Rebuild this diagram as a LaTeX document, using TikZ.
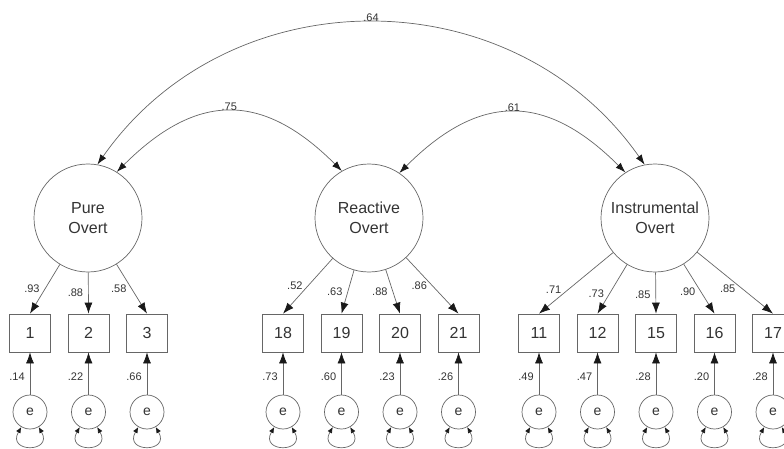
\documentclass[tikz,border=0pt]{standalone}
\usepackage{fontspec}
\setmainfont{Liberation Sans}
\usetikzlibrary{positioning}
\usetikzlibrary{arrows.meta}

\begin{document}
\begin{tikzpicture}[x = 1pt, y = 1pt]
  \tikzstyle{latent}=[circle, minimum size = 108pt, inner sep = 0pt, draw = black!60, line width = 0.7pt, text = black!80, align = center, font = \fontsize{16}{20}\selectfont]
  \tikzstyle{observed}=[rectangle, minimum width = 41pt, minimum height = 38pt, draw = black!60, line width = 0.7pt, text = black!80, font = \fontsize{16}{19}\selectfont, node distance = 58.5pt]
  \tikzstyle{resid}=[circle, minimum size = 34pt, inner sep = 0pt, draw = black!60, line width = 0.7pt, text = black!80, font = \fontsize{14}{17}\selectfont, node distance = 79pt]
  \tikzstyle{connect}=[-{Latex[length = 11pt, width = 8pt, color = black!90]}, draw = black!60, line width = 0.7pt]
  \tikzstyle{covary}=[{Latex[length = 10pt, width = 7pt, color = black!90]}-{Latex[length = 10pt, width = 7pt, color = black!90]}, draw = black!60, line width = 0.7pt]
  \tikzstyle{selfvar}=[loop, out = -120, in = -60, min distance = 30pt, {Latex[length = 6pt, width = 5pt, color = black!90]}-{Latex[length = 6pt, width = 5pt, color = black!90]}, shorten >=0pt, draw = black!60, line width = 0.7pt]
  \tikzstyle{coef}=[inner sep = 1pt, text = black!80, font = \fontsize{11}{13}\selectfont]

  \useasboundingbox (0,0) rectangle (784,-449);

  \node[latent] (pure) at (88,-218) {Pure\\Overt};
  \node[latent] (react) at (369,-218) {Reactive\\Overt};
  \node[latent] (instr) at (655,-218) {Instrumental\\Overt};

  \node[observed] (x1) at (30,-333) {1};
  \node[observed] (x2) [right of = x1] {2};
  \node[observed] (x3) [right of = x2] {3};
  \node[observed] (x18) at (283,-333) {18};
  \node[observed] (x19) [right of = x18] {19};
  \node[observed] (x20) [right of = x19] {20};
  \node[observed] (x21) [right of = x20] {21};
  \node[observed] (x11) at (539,-333) {11};
  \node[observed] (x12) [right of = x11] {12};
  \node[observed] (x15) [right of = x12] {15};
  \node[observed] (x16) [right of = x15] {16};
  \node[observed] (x17) [right of = x16] {17};

  \node[resid] (e1) [below of = x1] {e};
  \node[resid] (e2) [below of = x2] {e};
  \node[resid] (e3) [below of = x3] {e};
  \node[resid] (e18) [below of = x18] {e};
  \node[resid] (e19) [below of = x19] {e};
  \node[resid] (e20) [below of = x20] {e};
  \node[resid] (e21) [below of = x21] {e};
  \node[resid] (e11) [below of = x11] {e};
  \node[resid] (e12) [below of = x12] {e};
  \node[resid] (e15) [below of = x15] {e};
  \node[resid] (e16) [below of = x16] {e};
  \node[resid] (e17) [below of = x17] {e};

  \path (pure.80) edge [covary, out = 55, in = 125, looseness = 1.08] node [coef, above] {.64} (instr.101)
        (pure.58) edge [covary, out = 45, in = 135, looseness = 1.28] node [coef, above] {.75} (react.120)
        (react.56) edge [covary, out = 45, in = 135, looseness = 1.28] node [coef, above] {.61} (instr.123);

  \path (pure) edge [connect] node [coef, left = 4pt] {.93} (x1.north)
        (pure) edge [connect] node [coef, left = 4pt] {.88} (x2.north)
        (pure) edge [connect] node [coef, left = 4pt] {.58} (x3.north);

  \path (react) edge [connect] node [coef, left = 4pt] {.52} (x18.north)
        (react) edge [connect] node [coef, left = 4pt] {.63} (x19.north)
        (react) edge [connect] node [coef, left = 4pt] {.88} (x20.north)
        (react) edge [connect] node [coef, left = 4pt] {.86} (x21.north);

  \path (instr) edge [connect] node [coef, pos = 0.6, left = 6pt] {.71} (x11.north)
        (instr) edge [connect] node [coef, pos = 0.6, left = 4pt] {.73} (x12.north)
        (instr) edge [connect] node [coef, pos = 0.55, left = 4pt] {.85} (x15.north)
        (instr) edge [connect] node [coef, pos = 0.55, left = 4pt] {.90} (x16.north)
        (instr) edge [connect] node [coef, pos = 0.6, left = 6pt] {.85} (x17.north);

  \path (e1) edge [connect] node [coef, pos = 0.42, left = 4pt] {.14} (x1)
        (e2) edge [connect] node [coef, pos = 0.42, left = 4pt] {.22} (x2)
        (e3) edge [connect] node [coef, pos = 0.42, left = 4pt] {.66} (x3)
        (e18) edge [connect] node [coef, pos = 0.42, left = 4pt] {.73} (x18)
        (e19) edge [connect] node [coef, pos = 0.42, left = 4pt] {.60} (x19)
        (e20) edge [connect] node [coef, pos = 0.42, left = 4pt] {.23} (x20)
        (e21) edge [connect] node [coef, pos = 0.42, left = 4pt] {.26} (x21)
        (e11) edge [connect] node [coef, pos = 0.42, left = 4pt] {.49} (x11)
        (e12) edge [connect] node [coef, pos = 0.42, left = 4pt] {.47} (x12)
        (e15) edge [connect] node [coef, pos = 0.42, left = 4pt] {.28} (x15)
        (e16) edge [connect] node [coef, pos = 0.42, left = 4pt] {.20} (x16)
        (e17) edge [connect] node [coef, pos = 0.42, left = 4pt] {.28} (x17);

  \path (e1) edge [selfvar] (e1)
        (e2) edge [selfvar] (e2)
        (e3) edge [selfvar] (e3)
        (e18) edge [selfvar] (e18)
        (e19) edge [selfvar] (e19)
        (e20) edge [selfvar] (e20)
        (e21) edge [selfvar] (e21)
        (e11) edge [selfvar] (e11)
        (e12) edge [selfvar] (e12)
        (e15) edge [selfvar] (e15)
        (e16) edge [selfvar] (e16)
        (e17) edge [selfvar] (e17);

\end{tikzpicture}
\end{document}
